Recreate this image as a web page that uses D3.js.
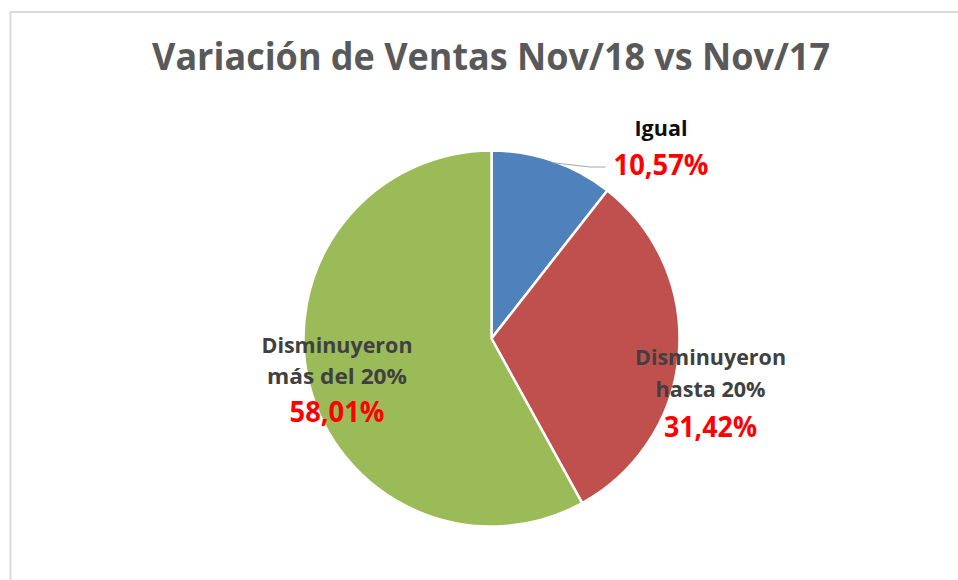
<!DOCTYPE html>
<html>
<head>
<meta charset="utf-8">
<script src="https://cdn.jsdelivr.net/npm/d3@7"></script>
<style>
  html, body { margin: 0; padding: 0; background: #fff; }
  svg { display: block; }
</style>
</head>
<body>
<svg id="chart" width="958" height="580"></svg>
<script>
// ---- Data ----
const title = "Variación de Ventas Nov/18 vs Nov/17";
const categories = ["Igual", "Disminuyeron hasta 20%", "Disminuyeron más del 20%"];
const categoryLines = [["Igual"], ["Disminuyeron", "hasta 20%"], ["Disminuyeron", "más del 20%"]];
const values = [10.57, 31.42, 58.01];
const valueLabels = ["10,57%", "31,42%", "58,01%"];
const colors = ["#4F81BD", "#C0504D", "#9BBB59"];

// ---- Layout ----
const W = 958, H = 580;
const cx = 491.5, cy = 338.5, R = 188;
const svg = d3.select("#chart");

// chart border (extends beyond viewport on right/bottom)
svg.append("rect")
  .attr("x", 10.5).attr("y", 12).attr("width", 980).attr("height", 600)
  .attr("fill", "#fff").attr("stroke", "#d9d9d9").attr("stroke-width", 2);

// title
svg.append("text")
  .attr("x", 491).attr("y", 70)
  .attr("text-anchor", "middle")
  .attr("font-family", "'Open Sans', sans-serif")
  .attr("font-weight", 700)
  .attr("font-size", 37)
  .attr("fill", "#595959")
  .attr("textLength", 678)
  .attr("lengthAdjust", "spacingAndGlyphs")
  .text(title);

const pie = d3.pie().sort(null).value(d => d)
  .startAngle(0).endAngle(2 * Math.PI);
const arcs = pie(values);
const arc = d3.arc().innerRadius(0).outerRadius(R);

const g = svg.append("g").attr("transform", `translate(${cx},${cy})`);
g.selectAll("path.slice").data(arcs).enter().append("path")
  .attr("class", "slice")
  .attr("d", arc)
  .attr("fill", (d, i) => colors[i])
  .attr("stroke", "#fff")
  .attr("stroke-width", 2.5)
  .attr("stroke-linejoin", "round");

// label layout (relative to pie centre): anchor x, baselines of name lines, baseline of value line
const labelLayout = [
  { x: 169.5, names: [-202.8], value: -163.5, nameColor: "#0d0d0d", nameWidths: [53], valueWidth: 95 },
  { x: 219, names: [26.5, 58.2], value: 98.2, nameColor: "#404040", nameWidths: [151, 110], valueWidth: 93 },
  { x: -154.5, names: [14.5, 45.5], value: 83.5, nameColor: "#404040", nameWidths: [151, 140], valueWidth: 95 }
];

arcs.forEach((d, i) => {
  const L = labelLayout[i];
  const lg = g.append("g");
  categoryLines[i].forEach((line, j) => {
    lg.append("text")
      .attr("x", L.x).attr("y", L.names[j])
      .attr("text-anchor", "middle")
      .attr("font-family", "'Open Sans', sans-serif")
      .attr("font-weight", 700)
      .attr("font-size", 21)
      .attr("fill", L.nameColor)
      .attr("textLength", L.nameWidths[j])
      .attr("lengthAdjust", "spacingAndGlyphs")
      .text(line);
  });
  lg.append("text")
    .attr("x", L.x).attr("y", L.value)
    .attr("text-anchor", "middle")
    .attr("font-family", "'Open Sans', sans-serif")
    .attr("font-weight", 700)
    .attr("font-size", 28)
    .attr("fill", "#FF0000")
    .attr("textLength", L.valueWidth)
    .attr("lengthAdjust", "spacingAndGlyphs")
    .text(valueLabels[i]);
});

// leader line for the small slice
const a0 = arcs[0];
const mid = (a0.startAngle + a0.endAngle) / 2;
const p0 = [Math.sin(mid) * (R - 2), -Math.cos(mid) * (R - 2)];
g.append("polyline")
  .attr("points", [p0, [98.5, -171.5], [114, -171.5]].map(p => p.join(",")).join(" "))
  .attr("fill", "none")
  .attr("stroke", "#a6a6a6")
  .attr("stroke-width", 1);
</script>
</body>
</html>
